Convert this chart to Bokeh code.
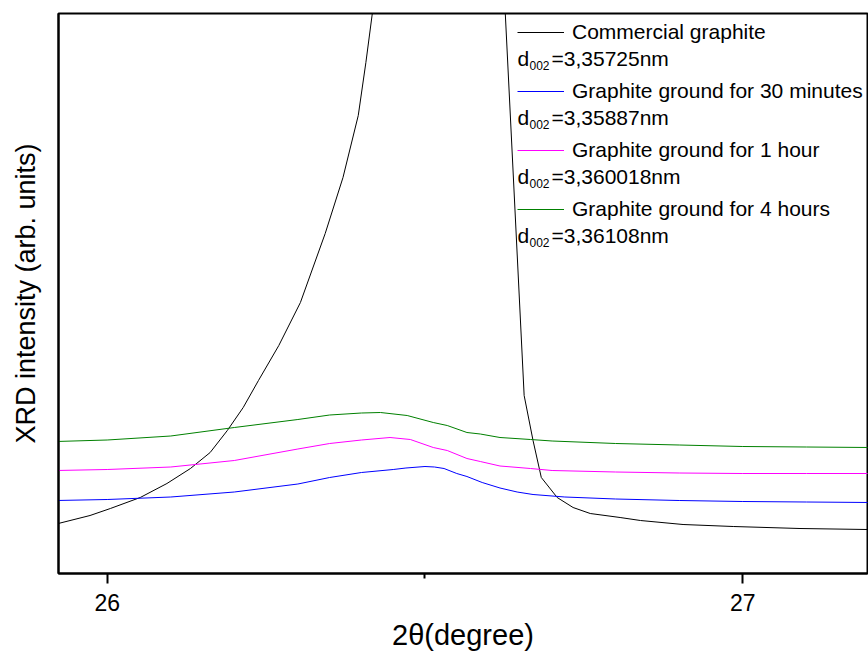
from bokeh.plotting import figure
from bokeh.models import Range1d, FixedTicker, Legend, LegendItem, Label
from bokeh.embed import file_html
from bokeh.resources import INLINE

# --- XRD (002) reflection, 2theta in degrees, intensity in arbitrary units ---
commercial_2theta = [25.923, 25.973, 26.005, 26.052, 26.094, 26.131, 26.162, 26.189,
                     26.214, 26.238, 26.270, 26.304, 26.343, 26.371, 26.395, 26.407,
                     26.426, 26.450, 26.500, 26.530, 26.560, 26.600, 26.623, 26.656,
                     26.670, 26.683, 26.708, 26.733, 26.760, 26.807, 26.839, 26.906,
                     26.985, 27.090, 27.196]
commercial_int = [50, 58, 65, 76, 90, 105, 121, 143,
                  166, 193, 228, 271, 340, 396, 458, 511,
                  603, 1500, 3900, 4600, 3700, 1100, 603, 178,
                  133, 96, 76, 66, 60, 56, 53, 49,
                  47, 45, 44]

min30_2theta = [25.92, 26.00, 26.10, 26.20, 26.30, 26.35, 26.40, 26.45, 26.47, 26.50,
                26.515, 26.53, 26.55, 26.566, 26.59, 26.618, 26.645, 26.67, 26.72,
                26.80, 26.90, 27.00, 27.10, 27.20]
min30_int = [73, 74, 76.5, 81.5, 89.5, 96, 101, 104, 105.5, 107,
             106.5, 105, 100, 97, 91, 85.5, 81.5, 79, 76.5,
             74.5, 73, 72, 71.5, 71]

h1_2theta = [25.92, 26.00, 26.10, 26.20, 26.30, 26.35, 26.40, 26.445, 26.477, 26.513,
             26.535, 26.566, 26.587, 26.618, 26.666, 26.70, 26.80, 26.90, 27.00,
             27.10, 27.20]
h1_int = [103, 104, 106.5, 113, 124.5, 130, 133.5, 136, 134, 126,
          123, 115, 112, 107.5, 105, 103, 101.5, 100.5, 100,
          100, 100]

h4_2theta = [25.92, 26.00, 26.10, 26.20, 26.30, 26.35, 26.40, 26.43, 26.472, 26.513,
             26.535, 26.566, 26.587, 26.618, 26.666, 26.70, 26.80, 26.90, 27.00,
             27.10, 27.20]
h4_int = [132, 133.5, 137.5, 146, 154, 158.5, 160.5, 161, 158, 151,
          148, 141, 139.5, 136, 134, 132.5, 130, 128.5, 127,
          126.5, 126]

series_names = ["Commercial graphite", "Graphite ground for 30 minutes",
                "Graphite ground for 1 hour", "Graphite ground for 4 hours"]
d002_values = ["=3,35725nm", "=3,35887nm", "=3,360018nm", "=3,36108nm"]
series_colors = ["#000000", "#0000FF", "#FF00FF", "#008000"]

x_ticks = [26, 27]
x_minor_ticks = [26.5]

FONT = "Liberation Sans"

p = figure(width=868, height=654, output_backend="svg", toolbar_location=None,
           x_range=Range1d(25.9234, 27.1962), y_range=Range1d(0, 560),
           min_border_left=58, min_border_right=1, min_border_top=13,
           min_border_bottom=81)
p.background_fill_color = "white"
p.border_fill_color = "white"
p.outline_line_color = "black"
p.outline_line_width = 2
p.xgrid.visible = False
p.ygrid.visible = False

xs = [commercial_2theta, min30_2theta, h1_2theta, h4_2theta]
ys = [commercial_int, min30_int, h1_int, h4_int]
renderers = []
for x, y, c in zip(xs, ys, series_colors):
    renderers.append(p.line(x, y, line_color=c, line_width=1))

# bottom axis
xa = p.xaxis[0]
xa.ticker = FixedTicker(ticks=x_ticks, minor_ticks=x_minor_ticks)
xa.axis_line_width = 2
xa.major_tick_line_width = 2
xa.minor_tick_line_width = 2
xa.major_tick_in = 0
xa.major_tick_out = 10
xa.minor_tick_in = 0
xa.minor_tick_out = 5
xa.major_label_text_font = FONT
xa.major_label_text_font_size = "23px"
xa.major_label_text_color = "black"
xa.major_label_standoff = 10
xa.axis_label = "2θ(degree)"
xa.axis_label_text_font = FONT
xa.axis_label_text_font_size = "29px"
xa.axis_label_text_font_style = "normal"
xa.axis_label_text_color = "black"
xa.axis_label_standoff = 5

# left axis: line and title only
ya = p.yaxis[0]
ya.ticker = FixedTicker(ticks=[])
ya.axis_line_width = 2
ya.major_tick_out = 0
ya.major_tick_in = 0
ya.minor_tick_out = 0
ya.minor_tick_in = 0
ya.axis_label = "XRD intensity (arb. units)"
ya.axis_label_text_font = FONT
ya.axis_label_text_font_size = "27px"
ya.axis_label_text_font_style = "normal"
ya.axis_label_text_color = "black"
ya.axis_label_standoff = 18

# legend: one line sample per series, with the d002 spacing written underneath
FRAME_H = 560
ROW_PITCH = 59
ITEM_H = 30
first_center = 19  # from frame top
legend_left = 459
n = len(series_names)
legend_height = n * ITEM_H + (n - 1) * (ROW_PITCH - ITEM_H)

legend = Legend(
    items=[LegendItem(label=name, renderers=[r]) for name, r in zip(series_names, renderers)],
    location=(legend_left, FRAME_H - (first_center - ITEM_H // 2) - legend_height),
    glyph_width=47, glyph_height=ITEM_H, label_height=ITEM_H,
    label_standoff=8, spacing=ROW_PITCH - ITEM_H, padding=0, margin=0,
    border_line_color=None, background_fill_alpha=0,
    label_text_font=FONT, label_text_font_size="21px", label_text_color="black",
)
p.add_layout(legend)

for i, val in enumerate(d002_values):
    baseline = first_center + ROW_PITCH * i + 26  # from frame top
    sy = FRAME_H - baseline
    p.add_layout(Label(x=legend_left, y=sy, x_units="screen", y_units="screen",
                       text="d", text_font=FONT, text_font_size="21px",
                       text_color="black", text_baseline="alphabetic"))
    p.add_layout(Label(x=legend_left + 12, y=sy - 7, x_units="screen", y_units="screen",
                       text="002", text_font=FONT, text_font_size="12px",
                       text_color="black", text_baseline="alphabetic"))
    p.add_layout(Label(x=legend_left + 34, y=sy, x_units="screen", y_units="screen",
                       text=val, text_font=FONT, text_font_size="21px",
                       text_color="black", text_baseline="alphabetic"))

open("out.html", "w").write(file_html(p, INLINE))
